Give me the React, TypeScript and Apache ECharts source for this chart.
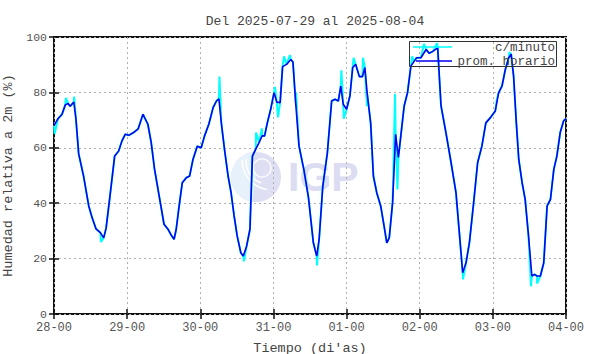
import React, { useEffect, useRef } from "react";
import * as echarts from "echarts";

const TITLE = "Del 2025-07-29 al 2025-08-04";
const X_NAME = "Tiempo (di'as)";
const Y_NAME = "Humedad relativa a 2m (%)";
const DAY_LABELS = ["28-00", "29-00", "30-00", "31-00", "01-00", "02-00", "03-00", "04-00"];
const Y_TICKS = [0, 20, 40, 60, 80, 100];

// hourly average [hours since 28-00, %]
const HOURLY: [number, number][] = [
  [0, 68], [1.3, 70.5], [2.6, 72], [3.7, 75.5], [4.6, 76], [5.3, 75], [6.5, 76.5], [7.2, 70.4],
  [8.1, 57.8], [9.7, 49.8], [11.4, 39], [12.5, 34.8], [13.8, 30.7], [15.2, 29.4], [16.3, 27.5],
  [17.1, 31], [18.5, 43.8], [19.9, 57], [21.2, 58.8], [22.3, 62.5], [23.4, 64.9], [24.5, 64.5],
  [26.1, 65.5], [27.6, 66.8], [29.2, 72.1], [30.8, 68.5], [31.9, 61.9], [33.0, 52.2], [34.7, 41.4],
  [36.1, 32.4], [37.4, 30.6], [38.5, 28.4], [39.4, 27], [40.1, 30.6], [41.2, 40.2], [42.1, 47.4],
  [43.4, 49.2], [44.5, 49.8], [45.6, 55.8], [47.0, 60.6], [48.3, 60], [49.4, 64.3], [50.8, 68.5],
  [52.2, 74.5], [53.3, 76.9], [54.1, 77.7], [54.9, 69], [56.0, 59], [57.1, 50], [58.1, 43.8],
  [59.1, 35.4], [60.1, 28.2], [61.3, 22.1], [62.1, 20.9], [63.2, 24.5], [64.3, 30.6], [65.1, 57],
  [66.2, 59.5], [67.3, 61.9], [68.3, 64.3], [69.1, 64.3], [70.0, 69], [71.1, 73.9], [72.2, 79.9],
  [73.1, 76.5], [74.2, 76.3], [75.0, 89.3], [76.3, 90.1], [77.7, 91.9], [78.4, 91], [79.3, 76.3],
  [80.4, 60.6], [82.0, 52], [83.5, 42], [85.1, 25.7], [86.2, 20.9], [87.0, 27], [88.2, 46.2],
  [89.7, 58.2], [91.1, 76.9], [92.2, 77.5], [93.3, 76.9], [94.1, 82.3], [94.9, 75.7], [96.0, 73.9],
  [97.1, 78.7], [98.0, 89], [99.0, 90.1], [100.2, 85.7], [101.2, 85.7], [102.0, 89], [102.8, 79.3],
  [103.9, 69], [104.8, 49.8], [105.9, 43.8], [107.2, 39], [108.3, 31.8], [109.2, 25.7], [110.0, 27.5],
  [111.1, 40.2], [112.1, 64.9], [113.0, 56.5], [113.8, 64.3], [114.9, 75.1], [116.0, 79.9],
  [117.1, 89.5], [118.2, 91.3], [119.0, 92.5], [120.4, 92.5], [122.1, 95.5], [123.1, 94.1],
  [124.4, 94.9], [125.9, 96.1], [127.0, 75.1], [128.6, 65.5], [130.3, 54.6], [131.9, 43.8],
  [133.0, 29.4], [134.1, 14.9], [135.2, 18.5], [136.3, 25.7], [137.7, 40.2], [139.0, 54.6],
  [140.4, 60.6], [141.7, 69], [143.2, 70.9], [144.8, 73.3], [145.9, 79.9], [147.0, 82.3],
  [148.1, 88.3], [149.2, 92.5], [150.0, 93.8], [150.8, 85.9], [151.7, 69], [152.5, 55.8],
  [153.6, 47.4], [154.6, 41.4], [155.7, 28.2], [156.8, 13.7], [157.7, 14.3], [158.5, 13.7],
  [159.6, 13.7], [160.7, 18.5], [161.8, 39], [162.9, 41.4], [164.0, 52.2], [165.0, 57],
  [166.1, 65.5], [167.2, 69.7], [168, 70.5],
];

// per-minute excursions [hours, %]
const MINUTE_SPIKES: [number, number][] = [
  [0.2, 65], [3.9, 78], [6.6, 78.5], [15.4, 26], [54.3, 85.7], [62.3, 19], [66.3, 65.5],
  [68.2, 67], [72.5, 82], [73.5, 71], [75.5, 93], [77.4, 93.5], [79.4, 80], [86.3, 17.5],
  [94.3, 88], [95.1, 70.5], [98.3, 92.5], [101.4, 92.5], [102.7, 75], [111.9, 79.4],
  [112.7, 45], [117.5, 93], [121.4, 97.5], [125.7, 97.8], [126.6, 82], [134.2, 12.5],
  [145.3, 77.5], [149.4, 94.5], [156.5, 10], [158.5, 11],
];

const MONO = "'Liberation Mono', 'DejaVu Sans Mono', monospace";

export default function App() {
  const ref = useRef<HTMLDivElement>(null);
  useEffect(() => {
    if (!ref.current) return;
    const chart = echarts.init(ref.current, undefined, { renderer: "svg" });
    const minute = [...HOURLY, ...MINUTE_SPIKES].sort((a, b) => a[0] - b[0]);
    const gridLine = { show: true, lineStyle: { color: "#b0b0b0", width: 1, type: [2, 3] as any } };
    const tick = { show: true, inside: true, length: 5, lineStyle: { color: "#111", width: 1.5 } };
    chart.setOption({
      animation: false,
      backgroundColor: "#ffffff",
      title: {
        text: TITLE,
        left: 310,
        textAlign: "center",
        top: 10,
        textStyle: { fontFamily: MONO, fontSize: 13, fontWeight: "normal", color: "#444" },
      },
      grid: {
        left: 54, right: 24, top: 37, bottom: 40, show: true, borderColor: "#111", borderWidth: 2,
        backgroundColor: "transparent", containLabel: false, outerBoundsMode: "none",
      },
      xAxis: [
        {
          type: "value", min: 0, max: 168, interval: 24,
          axisLine: { show: false },
          axisTick: tick,
          axisLabel: {
            formatter: (v: number) => DAY_LABELS[Math.round(v / 24)] ?? "",
            fontFamily: MONO, fontSize: 12, color: "#555", margin: 8,
          },
          splitLine: gridLine,
          name: X_NAME, nameLocation: "middle", nameGap: 27,
          nameTextStyle: { fontFamily: MONO, fontSize: 13.5, color: "#444" },
        },
        {
          type: "value", min: 0, max: 168, interval: 24, position: "top",
          axisLine: { show: false },
          axisTick: tick,
          axisLabel: { show: false }, splitLine: { show: false },
        },
      ],
      yAxis: [
        {
          type: "value", min: Y_TICKS[0], max: Y_TICKS[Y_TICKS.length - 1], interval: 20,
          axisLine: { show: false },
          axisTick: tick,
          axisLabel: { fontFamily: MONO, fontSize: 11.5, color: "#555", margin: 7 },
          splitLine: gridLine,
          name: Y_NAME, nameLocation: "middle", nameGap: 30, nameRotate: 90,
          nameTextStyle: { fontFamily: MONO, fontSize: 13.5, color: "#444" },
        },
        {
          type: "value", min: 0, max: 100, interval: 20, position: "right",
          axisLine: { show: false },
          axisTick: tick,
          axisLabel: { show: false }, splitLine: { show: false },
        },
      ],
      graphic: [
        { type: "circle", z: 0, shape: { cx: 256, cy: 177, r: 25 }, style: { fill: "#dedff3" } },
        { type: "sector", z: 0, shape: { cx: 256, cy: 177, r: 25, startAngle: Math.PI * 0.55, endAngle: Math.PI * 1.45 }, style: { fill: "#e6f1fc" } },
        { type: "arc", z: 0, shape: { cx: 268, cy: 162, r: 22, startAngle: Math.PI * 0.6, endAngle: Math.PI * 1.05 }, style: { stroke: "#ffffff", lineWidth: 1.5, fill: "none" } },
        { type: "arc", z: 0, shape: { cx: 272, cy: 160, r: 30, startAngle: Math.PI * 0.55, endAngle: Math.PI * 1.0 }, style: { stroke: "#ffffff", lineWidth: 1.5, fill: "none" } },
        { type: "arc", z: 0, shape: { cx: 262, cy: 168, r: 9, startAngle: 0, endAngle: Math.PI * 2 }, style: { stroke: "#ffffff", lineWidth: 1.2, fill: "none" } },
        {
          type: "text", z: 0, x: 288, y: 177,
          style: { text: "IGP", fill: "#dcdcf2", font: "bold 41px 'Liberation Sans', Arial, sans-serif", textVerticalAlign: "middle", textAlign: "left" },
        },
        { type: "rect", z: 10, shape: { x: 409.5, y: 41.5, width: 147, height: 25 }, style: { fill: "none", stroke: "#333", lineWidth: 1 } },
        { type: "line", z: 10, shape: { x1: 413, y1: 47, x2: 452, y2: 47 }, style: { stroke: "#00ffff", lineWidth: 1.5 } },
        { type: "line", z: 10, shape: { x1: 416, y1: 61, x2: 452, y2: 61 }, style: { stroke: "#0000ee", lineWidth: 1.5 } },
        {
          type: "text", z: 10, x: 555, y: 48,
          style: { text: "c/minuto", fill: "#444", font: `12.5px ${MONO}`, textAlign: "right", textVerticalAlign: "middle" },
        },
        {
          type: "text", z: 10, x: 555, y: 62,
          style: { text: "prom. horario", fill: "#444", font: `12.5px ${MONO}`, textAlign: "right", textVerticalAlign: "middle" },
        },
      ],
      series: [
        {
          name: "c/minuto", type: "line", data: minute, showSymbol: false, z: 3,
          lineStyle: { color: "#00ffff", width: 2 },
        },
        {
          name: "prom. horario", type: "line", data: HOURLY, showSymbol: false, z: 4,
          lineStyle: { color: "#0000ee", width: 1.6 },
        },
      ],
    });
    return () => chart.dispose();
  }, []);
  return <div ref={ref} style={{ width: 590, height: 354, position: "absolute", left: 0, top: 0 }} />;
}
